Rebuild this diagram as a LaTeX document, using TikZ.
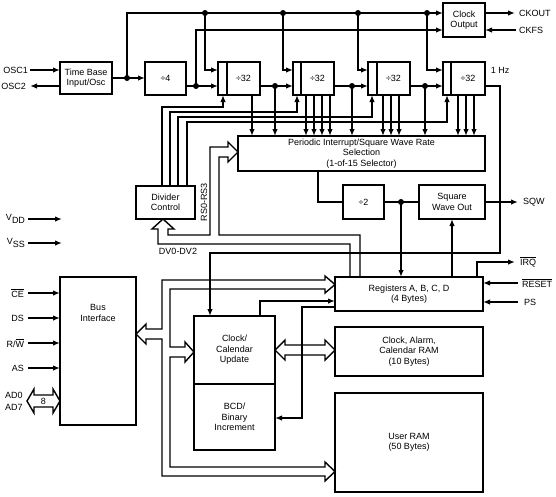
\documentclass[tikz,border=0pt]{standalone}
\usepackage{fontspec}
\setmainfont{Liberation Sans}
\usetikzlibrary{arrows.meta}
\tikzset{
  box/.style={draw, rectangle, inner sep=0pt, outer sep=0pt, align=center},
  arr/.style={-{Latex[length=7pt,width=5.5pt]}},
  dot/.style={circle, fill, inner sep=0pt, outer sep=0pt, minimum size=6pt},
  lbl/.style={inner sep=0pt, outer sep=0pt, align=center},
  bus/.style={line join=miter},
}
\begin{document}
\begin{tikzpicture}[x=1pt,y=-1pt,line width=1.4pt,font=\fontsize{9}{10.5}\selectfont]
\useasboundingbox (0,0) rectangle (556,496);

% ---------- boxes ----------
\node[box,minimum width=52pt,minimum height=32pt] (tb) at (86,78) {Time Base\\Input/Osc};
\node[box,minimum width=41pt,minimum height=33pt] (d4) at (165.5,78.5) {÷4};
\node[box,minimum width=42pt,minimum height=33pt] (dA) at (239,78.5) {};
\node[box,minimum width=41pt,minimum height=33pt] (dB) at (313.5,78.5) {};
\node[box,minimum width=42pt,minimum height=33pt] (dC) at (389,78.5) {};
\node[box,minimum width=42pt,minimum height=33pt] (dD) at (464,78.5) {};
\draw (227,62) -- (227,95);
\draw (301,62) -- (301,95);
\draw (377,62) -- (377,95);
\draw (451,62) -- (451,95);
\node[lbl] (tA) at (243.5,78.5) {÷32};
\node[lbl] (tB) at (317.5,78.5) {÷32};
\node[lbl] (tC) at (393.5,78.5) {÷32};
\node[lbl] (tD) at (468,78.5) {÷32};
\node[box,minimum width=42pt,minimum height=34pt] (co) at (464,20) {Clock\\Output};
\node[box,minimum width=247pt,minimum height=35pt] (pi) at (361.5,153.5) {Periodic Interrupt/Square Wave Rate\\Selection\\(1-of-15 Selector)};
\node[box,minimum width=59pt,minimum height=33pt] (dc) at (165.5,202.5) {Divider\\Control};
\node[box,minimum width=41pt,minimum height=34pt] (d2) at (363.5,202) {÷2};
\node[box,minimum width=66pt,minimum height=34pt] (sw) at (452,202) {Square\\Wave Out};
\node[box,minimum width=148pt,minimum height=34pt] (rg) at (409,294) {Registers A, B, C, D\\(4 Bytes)};
\node[box,minimum width=148pt,minimum height=49pt] (ca) at (409,351.5) {Clock, Alarm,\\Calendar RAM\\(10 Bytes)};
\node[box,minimum width=148pt,minimum height=99pt] (ur) at (409,442.5) {User RAM\\(50 Bytes)};
\node[box,minimum width=76pt,minimum height=148pt] (bi) at (98,351) {};
\node[lbl] (bit) at (98,313) {Bus\\Interface};
\node[box,minimum width=81pt,minimum height=68pt] (cc) at (234.5,350) {Clock/\\Calendar\\Update};
\node[box,minimum width=81pt,minimum height=66pt] (bcd) at (234.5,417) {BCD/\\Binary\\Increment};

% ---------- dots ----------
\node[dot] (j1) at (127,78) {};
\node[dot] (j2) at (196,86) {};
\node[dot] (j3) at (275,86) {};
\node[dot] (j4) at (352,86) {};
\node[dot] (j5) at (425,86) {};
\node[dot] (j6) at (401,202) {};
\node[dot] (k1) at (205,13) {};
\node[dot] (k2) at (283,13) {};
\node[dot] (k3) at (358,13) {};
\node[dot] (k4) at (427,13) {};

% ---------- pins ----------
\node[lbl,anchor=east] (osc1) at (28,70) {OSC1};
\node[lbl,anchor=east] (osc2) at (26,86) {OSC2};
\draw[arr] (30,70) -- (tb.west |- osc1);
\draw[arr] (tb.west |- osc2) -- (30,86);
\node[lbl,anchor=west] (ckout) at (519,13) {CKOUT};
\node[lbl,anchor=west] (ckfs) at (519,30) {CKFS};
\draw[arr] (co.east |- ckout) -- (515,13);
\draw[arr] (516,30) -- (co.east |- ckfs);
\node[lbl,anchor=west] (sqw) at (523,202) {SQW};
\draw[arr] (sw.east) -- (518,202);
\node[lbl,anchor=west] (irq) at (520,262) {\(\overline{\mbox{IRQ}}\)};
\draw[arr] (477,277) -- (477,262) -- (515,262);
\node[lbl,anchor=west] (rst) at (522,283) {\(\overline{\mbox{RESET}}\)};
\draw[arr] (518,283) -- (rg.east |- rst);
\node[lbl,anchor=west] (ps) at (524,302) {PS};
\draw[arr] (518,302) -- (rg.east |- ps);
\node[lbl,anchor=east] (vdd) at (25,219) {V\raisebox{-0.6ex}{DD}};
\node[lbl,anchor=east] (vss) at (25,243) {V\raisebox{-0.6ex}{SS}};
\draw[arr] (28,219) -- (62,219);
\draw[arr] (28,243) -- (62,243);
\node[lbl,anchor=east] (ce) at (24,293) {\(\overline{\mbox{CE}}\)};
\node[lbl,anchor=east] (ds) at (24,318) {DS};
\node[lbl,anchor=east] (rw) at (24,343) {R/\(\overline{\mbox{W}}\)};
\node[lbl,anchor=east] (as) at (24,368) {AS};
\draw[arr] (28,293) -- (bi.west |- ce);
\draw[arr] (28,318) -- (bi.west |- ds);
\draw[arr] (28,343) -- (bi.west |- rw);
\draw[arr] (28,368) -- (bi.west |- as);
\node[lbl] (ad0) at (14,395) {AD0};
\node[lbl] (ad7) at (14,407) {AD7};
\draw[bus] (27,401) -- (34,389) -- (34,395) -- (53,395) -- (53,389) -- (60,401) -- (53,413) -- (53,407) -- (34,407) -- (34,413) -- cycle;
\node[lbl] (eight) at (43.5,401) {8};

% ---------- labels ----------
\node[lbl] (hz) at (500,70) {1 Hz};
\node[lbl,rotate=90] (rs) at (204,202) {RS0-RS3};
\node[lbl] (dv) at (178,251) {DV0-DV2};

% ---------- clock chain ----------
\draw[arr] (tb.east |- j1) -- (j1.center) -- (d4.west |- j1);
\draw[arr] (j1.center) -- (127,13) -- (co.west |- 0,13);
\draw[arr] (k1.center) -- (205,70) -- (dA.west |- 0,70);
\draw[arr] (k2.center) -- (283,70) -- (dB.west |- 0,70);
\draw[arr] (k3.center) -- (358,70) -- (dC.west |- 0,70);
\draw[arr] (k4.center) -- (427,70) -- (dD.west |- 0,70);
\draw[arr] (d4.east |- j2) -- (j2.center) -- (dA.west |- j2);
\draw[arr] (j2.center) -- (196,30) -- (co.west |- 0,30);
\draw[arr] (dA.east |- j3) -- (j3.center) -- (dB.west |- j3);
\draw[arr] (dB.east |- j4) -- (j4.center) -- (dC.west |- j4);
\draw[arr] (dC.east |- j5) -- (j5.center) -- (dD.west |- j5);
\draw[arr] (j3.center) -- (j3 |- pi.north);
\draw[arr] (j4.center) -- (j4 |- pi.north);
\draw[arr] (j5.center) -- (j5 |- pi.north);
% divider taps to selector
\foreach \x in {252,306,314,322,330,383,391,399,458,466,474}
  \draw[arr] (\x,95) -- (\x,136);
% divider control to dividers
\draw[arr] (162,186) -- (162,107) -- (223,107) -- (223,95);
\draw[arr] (170,186) -- (170,112) -- (297,112) -- (297,95);
\draw[arr] (178,186) -- (178,117) -- (372,117) -- (372,95);
\draw[arr] (187,186) -- (187,122) -- (447,122) -- (447,95);
% 1 Hz
\draw[arr] (dD.east |- 0,86) -- (500,86) -- (500,253) -- (210,253) -- (cc.north -| 210,0);

% ---------- square wave ----------
\draw (318,171) -- (318,202) -- (d2.west);
\draw (d2.east) -- (j6.center) -- (sw.west);
\draw[arr] (j6.center) -- (j6 |- rg.north);
\draw[arr] (sw.south |- rg.north) -- (sw.south);

% ---------- buses ----------
\draw[bus] (158,229) -- (158,244) -- (350,244) -- (350,277) -- (360,277) -- (360,235) -- (219,235) -- (219,157) -- (228,157) -- (228,162) -- (238,152) -- (228,142) -- (228,147) -- (210,147) -- (210,235) -- (168,235) -- (168,229) -- (174,229) -- (163,219) -- (152,229) -- cycle;
\draw[bus] (146,329) -- (162,329) -- (162,280) -- (325,280) -- (325,276) -- (335,284.5) -- (325,293) -- (325,289) -- (170,289) -- (170,347) -- (185,347) -- (185,342) -- (194,352) -- (185,362) -- (185,357) -- (170,357) -- (170,467) -- (325,467) -- (325,462) -- (335,471.5) -- (325,481) -- (325,476) -- (162,476) -- (162,339) -- (146,339) -- (146,344) -- (136,334) -- (146,324) -- cycle;
\draw[bus] (275,350) -- (285,340) -- (285,345) -- (325,345) -- (325,340) -- (335,350) -- (325,360) -- (325,355) -- (285,355) -- (285,360) -- cycle;

% ---------- update / registers ----------
\draw[arr] (260,316) -- (260,301) -- (rg.west |- 0,301);
\draw[arr] (rg.west |- 0,307) -- (302,307) -- (302,418) -- (bcd.east |- 0,418);
\end{tikzpicture}
\end{document}
